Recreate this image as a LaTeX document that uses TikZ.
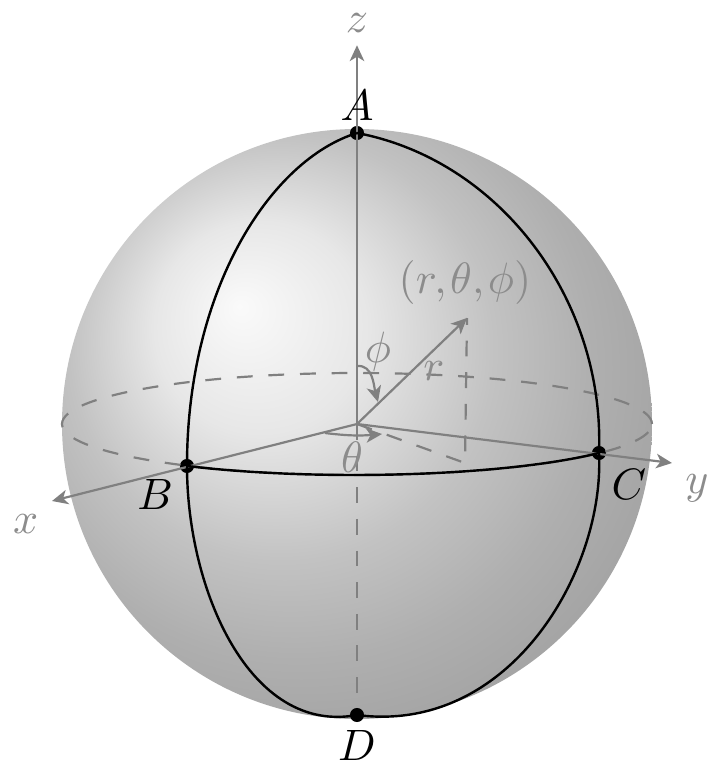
\documentclass[tikz,border=0pt]{standalone}
\usepackage{amsmath}
\usepackage{amsfonts}
\usepackage{amssymb}
\usetikzlibrary{arrows.meta}
\tikzset{
  >={Stealth[length=3.6pt, width=3.3pt, inset=1pt]},
  axisline/.style={gray, line width=.5pt},
  guideline/.style={gray, line width=.5pt, dash pattern=on 3.6pt off 3.6pt},
  arcline/.style={black, line width=.55pt},
  dot/.style={circle, fill=black, inner sep=0pt, minimum size=3.2pt},
  graylabel/.style={text=gray!90},
}
\begin{document}
\begin{tikzpicture}
        \useasboundingbox (-2.856,-2.784) rectangle (2.92,3.392);
        \shade [ball color=lightgray, opacity=.5] (0,0) circle (2.36);
        % positions
        \coordinate (O) at (0,0);
        \coordinate (xend) at (-2.44,-.616);
        \coordinate (yend) at (2.52,-.312);
        \coordinate (zend) at (0,3.03);
        \coordinate (P) at (.88,.848);
        \coordinate (Q) at (.864,-.312);
        \node [dot] (A) at (0,2.328) {};
        \node [dot] (B) at (-1.36,-.336) {};
        \node [dot] (C) at (1.936,-.232) {};
        \node [dot] (D) at (0,-2.328) {};
        % axes and guides
        \draw [axisline, ->] (O) -- (xend);
        \draw [axisline, ->] (O) -- (yend);
        \draw [axisline, ->] (O) -- (zend);
        \draw [axisline, ->] (O) -- (P);
        \draw [guideline] (O) -- (Q) -- (P);
        \draw [guideline] (O) -- (D);
        \draw [guideline] (O) ellipse (2.36 and .408);
        \draw [axisline, ->] (0,.464) to[out=5, in=105] (.168,.176);
        \draw [axisline, ->] (-.256,-.072) to[bend right=6] (.2,-.08);
        % great circles
        \draw [arcline] (A.center) .. controls (-.696,2.112) and (-1.36,1.072) .. (B.center);
        \draw [arcline] (B.center) .. controls (-1.36,-1.328) and (-.856,-2.488) .. (D.center);
        \draw [arcline] (A.center) .. controls (1.144,2.112) and (1.984,.992) .. (C.center);
        \draw [arcline] (C.center) .. controls (1.984,-1.168) and (1.224,-2.488) .. (D.center);
        \draw [arcline] (B.center) .. controls (-.288,-.464) and (1.192,-.416) .. (C.center);
        % labels
        \node (Alabel) at (0,2.552) {$A$};
        \node (Blabel) at (-1.615,-.56) {$B$};
        \node (Clabel) at (2.176,-.48) {$C$};
        \node (Dlabel) at (0,-2.568) {$D$};
        \node [graylabel] (xlabel) at (-2.65,-.8) {$x$};
        \node [graylabel] (ylabel) at (2.72,-.515) {$y$};
        \node [graylabel] (zlabel) at (0,3.205) {$z$};
        \node [graylabel] (Plabel) at (.864,1.128) {$(r,\mkern-1.5mu\theta,\mkern-1.5mu\phi)$};
        \node [graylabel] (rlabel) at (.616,.42) {$r$};
        \node [graylabel] (philabel) at (.168,.576) {$\phi$};
        \node [graylabel] (thetalabel) at (-.04,-.264) {$\theta$};
      \end{tikzpicture}
\end{document}
